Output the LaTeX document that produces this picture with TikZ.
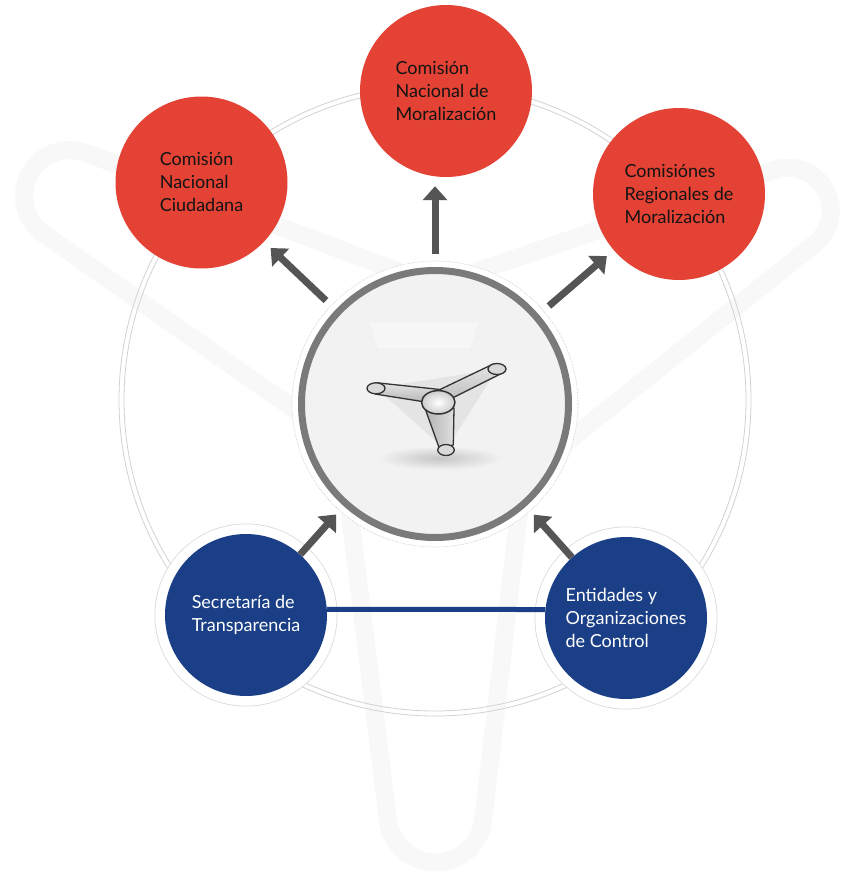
\documentclass[tikz,border=0pt]{standalone}
\usepackage{fontspec}
\setmainfont{Lato}
\usetikzlibrary{arrows.meta,calc}

\definecolor{redc}{HTML}{E34234}
\definecolor{bluec}{HTML}{1B3F86}
\definecolor{arrowc}{HTML}{555555}
\definecolor{ghostc}{HTML}{F8F8F8}
\definecolor{rimline}{HTML}{D2D2D2}
\definecolor{ringc}{HTML}{7A7A7A}
\definecolor{corefill}{HTML}{F2F2F2}
\definecolor{halol}{HTML}{DADADA}
\definecolor{inkc}{HTML}{141414}
\definecolor{iconline}{HTML}{333333}

\begin{document}
\begin{tikzpicture}[x=1pt,y=-1pt,
  bubbletext/.style={align=left, font=\fontsize{18}{23}\selectfont},
  redbubble/.style={circle, fill=redc, minimum size=172pt, inner sep=0pt,
    text=inkc, bubbletext},
  bluebubble/.style={circle, fill=bluec, minimum size=162pt, inner sep=0pt,
    text=white, bubbletext,
    preaction={draw=halol, line width=21pt},
    preaction={draw=white, line width=19.4pt}},
  flow/.style={draw=arrowc, line width=7pt,
    -{Triangle[length=14pt,width=24pt]}},
  iconedge/.style={draw=iconline, line width=1.3pt, line join=round},
]
\useasboundingbox (0,0) rectangle (846,873);
\fill[white] (0,0) rectangle (846,873);

% faint three-lobed outline in the background
\draw[ghostc, line width=18pt, line join=round]
  (435,285.5) -- (86.3,153) arc[start angle=-69.2, end angle=-235.1, radius=46]
  -- (341,442) -- (387.9,820.3) arc[start angle=173, end angle=6.3, radius=48]
  -- (523,477) -- (814.7,243.8) arc[start angle=51.3, end angle=-108.8, radius=42.7]
  -- cycle;

% double orbit ring
\draw[rimline, line width=0.8pt] (435,400) circle[radius=316];
\draw[rimline, line width=0.8pt] (435,400) circle[radius=311];

% central disc
\node[circle, minimum size=286pt, inner sep=0pt, fill=white,
      draw=gray!45, densely dotted, line width=0.6pt] (core) at (435,404) {};
\draw[ringc, line width=7pt, fill=corefill] (core.center) circle[radius=133.5];

% tripod emblem
\fill[white, opacity=0.4] (370,323) -- (478,323) -- (470,348) -- (378,348) -- cycle;
\shade[inner color=gray!45, outer color=corefill]
  (440,458) ellipse[x radius=62, y radius=12];
\fill[gray!45, opacity=0.3] (376,388) -- (497,369) -- (446,450) -- cycle;
\draw[iconedge, top color=gray!20, bottom color=gray!60]
  (376,382.7) -- (440,389.5) -- (438,404) -- (375,394) -- cycle;
\draw[iconedge, top color=gray!20, bottom color=gray!55]
  (440,389.5) -- (493.3,364) -- (501.7,373.3) -- (455,396.7) -- (438,404) -- cycle;
\draw[iconedge, left color=gray!60, right color=gray!25]
  (425,408.3) -- (439.3,448.3) -- (453.3,445) -- (454,408.3) -- cycle;
\draw[iconedge, line width=1.5pt, inner color=white, outer color=gray!40]
  (438.3,402.3) ellipse[x radius=16.7, y radius=11.7];
\draw[iconedge, fill=gray!30] (376,388.3) ellipse[x radius=9, y radius=5.5];
\draw[iconedge, fill=gray!30] (497,369) ellipse[x radius=9, y radius=5.5];
\draw[iconedge, fill=gray!30] (446,450) ellipse[x radius=8.3, y radius=5.5];

% commissions
\node[redbubble] (cnc) at (201.5,182.5) {Comisión\\Nacional\\Ciudadana};
\node[redbubble] (cnm) at (446,91) {Comisión\\Nacional de\\Moralización};
\node[redbubble] (crm) at (679,194) {Comisiónes\\Regionales de\\Moralización};

% control bodies
\node[bluebubble] (st) at (246,615) {Secretaría de\\Transparencia};
\node[bluebubble] (eoc) at (626,618) {Entidades y\\Organizaciones\\de Control};
\draw[bluec, line width=5pt] (st.4) -- (eoc.174);

% flows
\draw[flow, shorten <=7pt, shorten >=9pt] (core) -- (cnc);
\draw[flow, shorten <=7pt, shorten >=9pt] (core.north) -- (core.north |- cnm.south);
\draw[flow, shorten <=7pt, shorten >=9pt] (core) -- (crm);
\draw[flow, shorten >=5pt] (st) -- (core);
\draw[flow, shorten >=5pt] (eoc) -- (core);
\end{tikzpicture}
\end{document}
